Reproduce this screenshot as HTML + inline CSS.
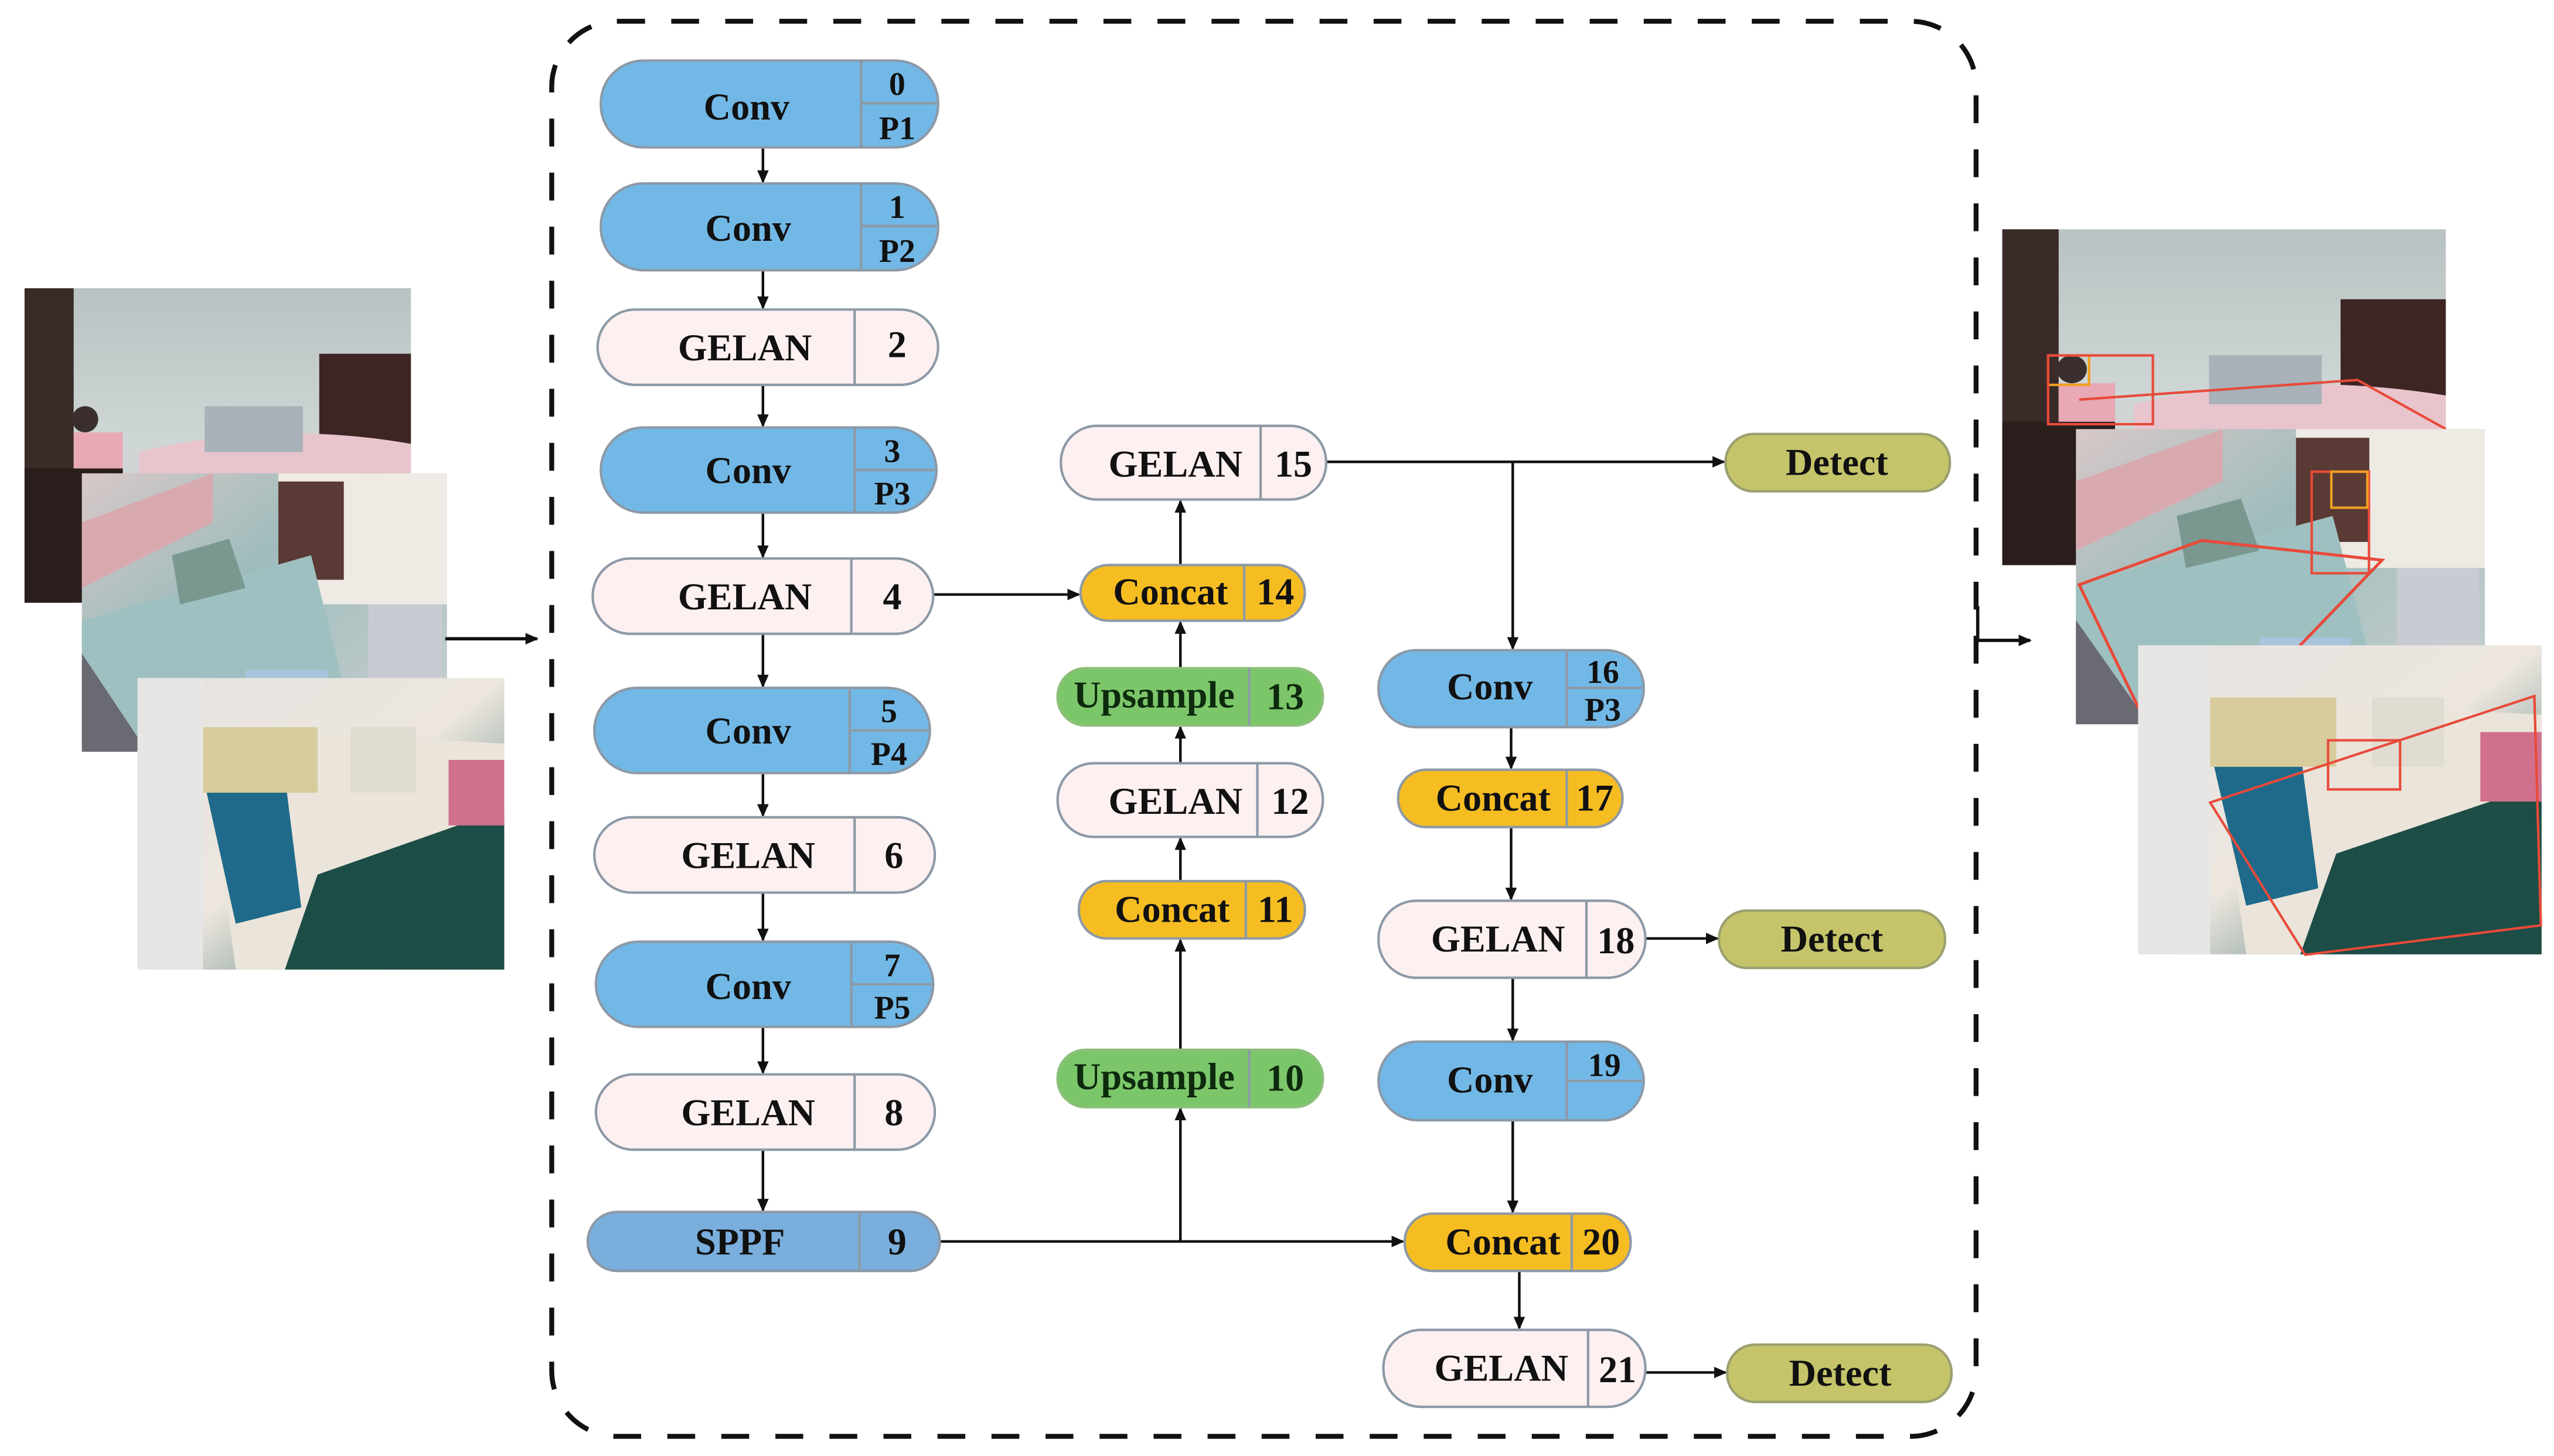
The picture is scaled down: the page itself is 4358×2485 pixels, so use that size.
<!DOCTYPE html>
<html><head><meta charset="utf-8"><style>
html,body{margin:0;padding:0;background:#fff;}
svg{display:block;}
text{font-family:"Liberation Serif",serif;font-weight:bold;fill:#111;}
</style></head><body>
<svg width="4358" height="2485" viewBox="0 0 1560 889" preserveAspectRatio="none" xmlns="http://www.w3.org/2000/svg">
<defs>
<marker id="ah" markerWidth="8" markerHeight="8" refX="7" refY="4" orient="auto" markerUnits="userSpaceOnUse"><path d="M0,0.5 L8,4 L0,7.5z" fill="#111"/></marker>
<linearGradient id="wallA" x1="0" y1="0" x2="0" y2="1"><stop offset="0" stop-color="#b9c2c2"/><stop offset="0.5" stop-color="#cfd6d6"/><stop offset="1" stop-color="#d8c4c8"/></linearGradient>
<linearGradient id="matB" x1="0" y1="0" x2="1" y2="1"><stop offset="0" stop-color="#d8c8c8"/><stop offset="0.4" stop-color="#9fbcbc"/><stop offset="1" stop-color="#cbd0d0"/></linearGradient>
<linearGradient id="bedC" x1="0" y1="0" x2="1" y2="1"><stop offset="0" stop-color="#e6e3df"/><stop offset="0.5" stop-color="#ece6df"/><stop offset="1" stop-color="#1e5a52"/></linearGradient>
<g id="photoA">
 <rect x="0" y="0" width="236" height="192" fill="url(#wallA)"/>
 <rect x="0" y="0" width="30" height="192" fill="#3a2a28"/>
 <rect x="0" y="110" width="60" height="82" fill="#2a1e1c"/>
 <rect x="180" y="40" width="56" height="55" fill="#3d2524"/>
 <path d="M70 100 Q150 80 236 95 L236 130 L70 130z" fill="#e8c4cc"/>
 <rect x="110" y="72" width="60" height="28" fill="#a8b2b8"/>
 <circle cx="37" cy="80" r="8" fill="#3a2f2c"/>
 <rect x="30" y="88" width="30" height="22" fill="#e8a8b4"/>
</g>
<g id="photoB">
 <rect x="0" y="0" width="223" height="170" fill="url(#matB)"/>
 <rect x="120" y="0" width="103" height="80" fill="#eeeae4"/>
 <rect x="120" y="5" width="40" height="60" fill="#5a3a34"/>
 <path d="M0 30 L80 0 L80 30 L0 70z" fill="#d8aab0"/>
 <path d="M0 90 L140 50 L160 130 L20 170 L0 170z" fill="#9ec0c0"/>
 <path d="M0 110 L40 170 L0 170z" fill="#6a6a72"/>
 <rect x="100" y="120" width="50" height="40" fill="#a8c4dc"/>
 <rect x="175" y="80" width="45" height="60" fill="#c8ccd2"/>
 <path d="M55 50 L90 40 L100 70 L60 80z" fill="#7a9890"/>
</g>
<g id="photoC">
 <rect x="0" y="0" width="224" height="178" fill="url(#bedC)"/>
 <rect x="0" y="0" width="40" height="178" fill="#e6e6e4"/>
 <path d="M40 30 L224 40 L224 178 L60 178z" fill="#ebe4da"/>
 <path d="M110 120 L224 80 L224 178 L90 178z" fill="#1c4d46"/>
 <path d="M40 60 L90 60 L100 140 L60 150z" fill="#1f6a8a"/>
 <rect x="190" y="50" width="34" height="40" fill="#d0708c"/>
 <rect x="130" y="30" width="40" height="40" fill="#e0dcd2"/>
 <rect x="40" y="30" width="70" height="40" fill="#d8cc9c"/>
</g>
</defs>

<!-- left photos -->
<use href="#photoA" x="15" y="176"/>
<use href="#photoB" x="50" y="289"/>
<use href="#photoC" x="84" y="414"/>

<!-- right photos -->
<use href="#photoA" transform="translate(1223,140) scale(1.148,1.068)"/>
<rect x="1251" y="217" width="25" height="18" fill="none" stroke="#f0a020" stroke-width="1.5"/>
<rect x="1251" y="217" width="64" height="42" fill="none" stroke="#e84a3a" stroke-width="1.5"/>
<path d="M1270 244 L1440 232 L1494 262" fill="none" stroke="#e84a3a" stroke-width="1.5"/>
<use href="#photoB" transform="translate(1268,262) scale(1.12,1.06)"/>
<path d="M1270 357 L1345 330 L1455 342 L1380 420 L1310 440z" fill="none" stroke="#e84a3a" stroke-width="1.8"/>
<rect x="1412" y="288" width="35" height="62" fill="none" stroke="#e84a3a" stroke-width="1.5"/>
<rect x="1424" y="288" width="22" height="22" fill="none" stroke="#f0a020" stroke-width="1.5"/>
<use href="#photoC" transform="translate(1306,394) scale(1.1,1.06)"/>
<path d="M1350 490 L1548 425 L1552 565 L1408 583z" fill="none" stroke="#e84a3a" stroke-width="1.5"/>
<rect x="1422" y="452" width="44" height="30" fill="none" stroke="#e84a3a" stroke-width="1.5"/>

<!-- dashed frame -->
<rect x="337" y="13" width="870" height="864" rx="40" ry="40" fill="none" stroke="#111" stroke-width="3" stroke-dasharray="17,16"/>

<!-- in/out arrows -->
<line x1="272" y1="390" x2="328" y2="390" stroke="#111" stroke-width="2" marker-end="url(#ah)"/>
<path d="M1208 370 L1208 391 L1240 391" fill="none" stroke="#111" stroke-width="2" marker-end="url(#ah)"/>

<g stroke="#111" stroke-width="1.6" fill="none">
 <!-- left column -->
 <line x1="466" y1="90" x2="466" y2="111" marker-end="url(#ah)"/>
 <line x1="466" y1="165" x2="466" y2="188" marker-end="url(#ah)"/>
 <line x1="466" y1="235" x2="466" y2="260" marker-end="url(#ah)"/>
 <line x1="466" y1="313" x2="466" y2="340" marker-end="url(#ah)"/>
 <line x1="466" y1="387" x2="466" y2="419" marker-end="url(#ah)"/>
 <line x1="466" y1="472" x2="466" y2="498" marker-end="url(#ah)"/>
 <line x1="466" y1="545" x2="466" y2="574" marker-end="url(#ah)"/>
 <line x1="466" y1="627" x2="466" y2="655" marker-end="url(#ah)"/>
 <line x1="466" y1="702" x2="466" y2="739" marker-end="url(#ah)"/>
 <!-- 4 -> 14 -->
 <line x1="570" y1="363" x2="659" y2="363" marker-end="url(#ah)"/>
 <!-- middle column ups -->
 <line x1="721" y1="345" x2="721" y2="306" marker-end="url(#ah)"/>
 <line x1="721" y1="408" x2="721" y2="380" marker-end="url(#ah)"/>
 <line x1="721" y1="466" x2="721" y2="444" marker-end="url(#ah)"/>
 <line x1="721" y1="538" x2="721" y2="512" marker-end="url(#ah)"/>
 <line x1="721" y1="641" x2="721" y2="574" marker-end="url(#ah)"/>
 <!-- SPPF line -->
 <line x1="574" y1="758" x2="857" y2="758" marker-end="url(#ah)"/>
 <line x1="721" y1="758" x2="721" y2="677" marker-end="url(#ah)"/>
 <!-- 15 -> detect -->
 <line x1="810" y1="282" x2="1053" y2="282" marker-end="url(#ah)"/>
 <line x1="924" y1="282" x2="924" y2="396" marker-end="url(#ah)"/>
 <!-- right column -->
 <line x1="923" y1="444" x2="923" y2="469" marker-end="url(#ah)"/>
 <line x1="923" y1="505" x2="923" y2="549" marker-end="url(#ah)"/>
 <line x1="1005" y1="573" x2="1049" y2="573" marker-end="url(#ah)"/>
 <line x1="924" y1="597" x2="924" y2="635" marker-end="url(#ah)"/>
 <line x1="924" y1="684" x2="924" y2="740" marker-end="url(#ah)"/>
 <line x1="928" y1="776" x2="928" y2="811" marker-end="url(#ah)"/>
 <line x1="1005" y1="838" x2="1054" y2="838" marker-end="url(#ah)"/>
</g>

<g stroke="#8d99a6" stroke-width="1.5">
 <!-- blue conv nodes -->
 <rect x="367" y="37" width="206" height="53" rx="26" fill="#72b8e6"/>
 <rect x="367" y="112" width="206" height="53" rx="26" fill="#72b8e6"/>
 <rect x="367" y="261" width="205" height="52" rx="26" fill="#72b8e6"/>
 <rect x="363" y="420" width="205" height="52" rx="26" fill="#72b8e6"/>
 <rect x="364" y="575" width="206" height="52" rx="26" fill="#72b8e6"/>
 <rect x="359" y="740" width="215" height="36" rx="18" fill="#7aaedc"/>
 <rect x="842" y="397" width="162" height="47" rx="23" fill="#72b8e6"/>
 <rect x="842" y="636" width="162" height="48" rx="24" fill="#72b8e6"/>
 <!-- pink gelan -->
 <rect x="365" y="189" width="208" height="46" rx="23" fill="#fdf0f0"/>
 <rect x="362" y="341" width="208" height="46" rx="23" fill="#fdf0f0"/>
 <rect x="363" y="499" width="208" height="46" rx="23" fill="#fdf0f0"/>
 <rect x="364" y="656" width="207" height="46" rx="23" fill="#fdf0f0"/>
 <rect x="648" y="260" width="162" height="45" rx="22" fill="#fdf0f0"/>
 <rect x="646" y="466" width="162" height="45" rx="22" fill="#fdf0f0"/>
 <rect x="842" y="550" width="163" height="47" rx="23" fill="#fdf0f0"/>
 <rect x="845" y="812" width="160" height="47" rx="23" fill="#fdf0f0"/>
 <!-- yellow concat -->
 <rect x="660" y="345" width="137" height="34" rx="17" fill="#f6bd22"/>
 <rect x="659" y="538" width="138" height="35" rx="17" fill="#f6bd22"/>
 <rect x="854" y="470" width="137" height="35" rx="17" fill="#f6bd22"/>
 <rect x="858" y="741" width="138" height="35" rx="17" fill="#f6bd22"/>
 <!-- green upsample -->
 <rect x="646" y="408" width="162" height="35" rx="17" fill="#7cc66a" stroke="#8cbf7a"/>
 <rect x="646" y="641" width="162" height="35" rx="17" fill="#7cc66a" stroke="#8cbf7a"/>
 <!-- detect -->
 <rect x="1054" y="265" width="137" height="35" rx="17" fill="#c5c46a" stroke="#9aa070"/>
 <rect x="1050" y="556" width="138" height="35" rx="17" fill="#c5c46a" stroke="#9aa070"/>
 <rect x="1055" y="821" width="137" height="35" rx="17" fill="#c5c46a" stroke="#9aa070"/>
 <!-- dividers -->
 <line x1="526" y1="37" x2="526" y2="90"/><line x1="526" y1="63" x2="572" y2="63"/>
 <line x1="526" y1="112" x2="526" y2="165"/><line x1="526" y1="138" x2="572" y2="138"/>
 <line x1="522" y1="189" x2="522" y2="235"/>
 <line x1="522" y1="261" x2="522" y2="313"/><line x1="522" y1="287" x2="571" y2="287"/>
 <line x1="520" y1="341" x2="520" y2="387"/>
 <line x1="519" y1="420" x2="519" y2="472"/><line x1="519" y1="446" x2="567" y2="446"/>
 <line x1="522" y1="499" x2="522" y2="545"/>
 <line x1="520" y1="575" x2="520" y2="627"/><line x1="520" y1="601" x2="569" y2="601"/>
 <line x1="522" y1="656" x2="522" y2="702"/>
 <line x1="525" y1="740" x2="525" y2="776"/>
 <line x1="770" y1="260" x2="770" y2="305"/>
 <line x1="760" y1="345" x2="760" y2="379"/>
 <line x1="763" y1="408" x2="763" y2="443"/>
 <line x1="768" y1="466" x2="768" y2="511"/>
 <line x1="761" y1="538" x2="761" y2="573"/>
 <line x1="763" y1="641" x2="763" y2="676"/>
 <line x1="957" y1="397" x2="957" y2="444"/><line x1="957" y1="420" x2="1003" y2="420"/>
 <line x1="957" y1="470" x2="957" y2="505"/>
 <line x1="969" y1="550" x2="969" y2="597"/>
 <line x1="957" y1="636" x2="957" y2="684"/><line x1="957" y1="660" x2="1003" y2="660"/>
 <line x1="960" y1="741" x2="960" y2="776"/>
 <line x1="970" y1="812" x2="970" y2="859"/>
</g>

<g font-size="23" text-anchor="middle">
 <text x="456" y="73">Conv</text>
 <text x="457" y="147">Conv</text>
 <text x="455" y="220">GELAN</text>
 <text x="457" y="295">Conv</text>
 <text x="455" y="372">GELAN</text>
 <text x="457" y="454">Conv</text>
 <text x="457" y="530">GELAN</text>
 <text x="457" y="610">Conv</text>
 <text x="457" y="687">GELAN</text>
 <text x="452" y="766">SPPF</text>
 <text x="718" y="291">GELAN</text>
 <text x="715" y="369">Concat</text>
 <text x="705" y="432" fill="#0d2a0d" style="fill:#0d2a0d">Upsample</text>
 <text x="718" y="497">GELAN</text>
 <text x="716" y="563">Concat</text>
 <text x="705" y="665" style="fill:#0d2a0d">Upsample</text>
 <text x="910" y="427">Conv</text>
 <text x="912" y="495">Concat</text>
 <text x="915" y="581">GELAN</text>
 <text x="910" y="667">Conv</text>
 <text x="918" y="766">Concat</text>
 <text x="917" y="843">GELAN</text>
 <text x="1122" y="290">Detect</text>
 <text x="1119" y="581">Detect</text>
 <text x="1124" y="846">Detect</text>
 <!-- numbers -->
 <text x="548" y="218">2</text>
 <text x="545" y="372">4</text>
 <text x="546" y="530">6</text>
 <text x="546" y="687">8</text>
 <text x="548" y="766">9</text>
 <text x="790" y="291">15</text>
 <text x="779" y="369">14</text>
 <text x="785" y="433" style="fill:#0d2a0d">13</text>
 <text x="788" y="497">12</text>
 <text x="779" y="563">11</text>
 <text x="785" y="666" style="fill:#0d2a0d">10</text>
 <text x="974" y="495">17</text>
 <text x="987" y="582">18</text>
 <text x="978" y="766">20</text>
 <text x="988" y="844">21</text>
</g>
<g font-size="20" text-anchor="middle">
 <text x="548" y="58">0</text><text x="548" y="85">P1</text>
 <text x="548" y="133">1</text><text x="548" y="160">P2</text>
 <text x="545" y="282">3</text><text x="545" y="308">P3</text>
 <text x="543" y="441">5</text><text x="543" y="467">P4</text>
 <text x="545" y="596">7</text><text x="545" y="622">P5</text>
 <text x="979" y="417">16</text><text x="979" y="440">P3</text>
 <text x="980" y="657">19</text>
</g>
</svg>
</body></html>
